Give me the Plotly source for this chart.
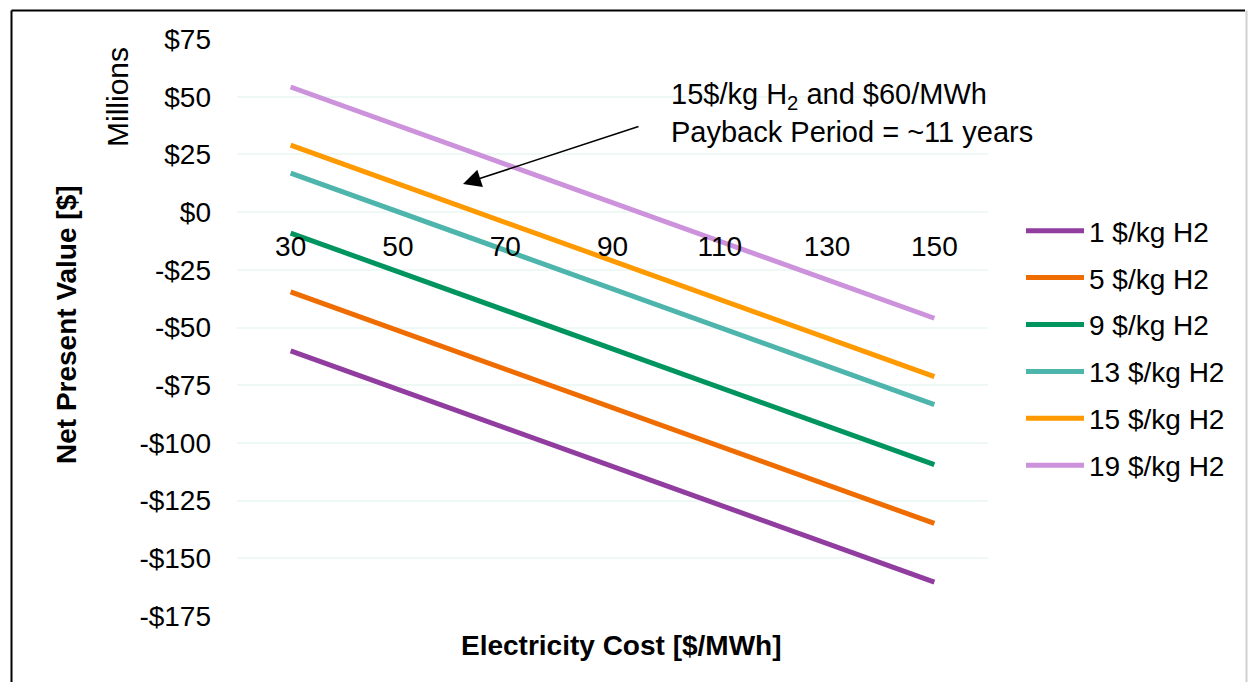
import plotly.graph_objects as go

# ---- data ----
electricity_cost = [30, 50, 70, 90, 110, 130, 150]  # $/MWh

series_names = ["1 $/kg H2", "5 $/kg H2", "9 $/kg H2", "13 $/kg H2", "15 $/kg H2", "19 $/kg H2"]

npv_1 = [-60.1, -76.8, -93.5, -110.2, -126.9, -143.6, -160.3]
npv_5 = [-34.6, -51.3, -68.0, -84.7, -101.4, -118.1, -134.9]
npv_9 = [-9.1, -25.8, -42.5, -59.2, -75.9, -92.6, -109.4]
npv_13 = [16.9, 0.2, -16.5, -33.2, -49.9, -66.6, -83.4]
npv_15 = [29.0, 12.3, -4.4, -21.1, -37.8, -54.5, -71.3]
npv_19 = [54.2, 37.5, 20.8, 4.1, -12.6, -29.3, -46.0]

y_tick_values = [75, 50, 25, 0, -25, -50, -75, -100, -125, -150, -175]
y_tick_labels = ["$75", "$50", "$25", "$0", "-$25", "-$50", "-$75", "-$100", "-$125", "-$150", "-$175"]
x_tick_labels = ["30", "50", "70", "90", "110", "130", "150"]

colors = ["#913DA0", "#EE6C00", "#00945F", "#4DB5AB", "#FF9900", "#CC92DB"]

# ---- layout geometry (pixels) ----
W, H = 1248, 682
PL, PR, PT, PB = 237, 988, 39, 616
pw, ph = PR - PL, PB - PT
Y_MIN, Y_MAX = -175, 75


def fx(px):
    return (px - PL) / pw


def fy(py):
    return (PB - py) / ph


FONT = "Arial, Liberation Sans, sans-serif"
FS = 28

fig = go.Figure()
all_series = [npv_1, npv_5, npv_9, npv_13, npv_15, npv_19]
for i, (name, vals) in enumerate(zip(series_names, all_series)):
    fig.add_trace(go.Scatter(
        x=electricity_cost, y=vals, mode="lines", name=name,
        line=dict(color=colors[i], width=5),
        legendgroup=f"g{i}",
    ))

fig.update_layout(
    width=W, height=H,
    margin=dict(l=PL, r=W - PR, t=PT, b=H - PB, pad=0),
    paper_bgcolor="white", plot_bgcolor="white",
    font=dict(family=FONT, size=FS, color="black"),
    showlegend=True,
    legend=dict(
        x=fx(1021), y=fy(206), xanchor="left", yanchor="top",
        font=dict(family=FONT, size=FS, color="black"),
        bgcolor="rgba(0,0,0,0)", borderwidth=0,
        traceorder="grouped", tracegroupgap=7.5,
        itemwidth=58,
    ),
    xaxis=dict(
        range=[20, 160], tickvals=electricity_cost, ticktext=x_tick_labels,
        showgrid=False, zeroline=False, showline=False, ticks="",
        anchor="free", position=(0 - Y_MIN) / (Y_MAX - Y_MIN),
        ticklabelstandoff=15,
        tickfont=dict(family=FONT, size=FS, color="black"),
        fixedrange=True,
    ),
    yaxis=dict(
        range=[Y_MIN, Y_MAX], tickvals=y_tick_values, ticktext=y_tick_labels,
        showgrid=True, gridcolor="#EEF8F5", gridwidth=2,
        zeroline=False, showline=False, ticks="",
        ticklabelstandoff=25,
        tickfont=dict(family=FONT, size=FS, color="black"),
        fixedrange=True,
    ),
)

# Axis titles and unit label
fig.add_annotation(
    text="<b>Electricity Cost [$/MWh]</b>", xref="paper", yref="paper",
    x=fx(621), y=fy(645), xanchor="center", yanchor="middle", showarrow=False,
    font=dict(family=FONT, size=FS, color="black"),
)
fig.add_annotation(
    text="<b>Net Present Value [$]</b>", xref="paper", yref="paper",
    x=fx(66), y=fy(325), xanchor="center", yanchor="middle", showarrow=False,
    textangle=-90, font=dict(family=FONT, size=FS, color="black"),
)
fig.add_annotation(
    text="Millions", xref="paper", yref="paper",
    x=fx(117), y=fy(97), xanchor="center", yanchor="middle", showarrow=False,
    textangle=-90, font=dict(family=FONT, size=30, color="black"),
)

# Callout text and arrow
fig.add_annotation(
    text="15$/kg H<sub>2</sub> and $60/MWh<br>Payback Period = ~11 years",
    xref="paper", yref="paper", x=fx(669), y=fy(113),
    xanchor="left", yanchor="middle", align="left", showarrow=False,
    font=dict(family=FONT, size=29, color="black"),
)
fig.add_annotation(
    text="", xref="paper", yref="paper", x=fx(463), y=fy(184),
    ax=640 - 463, ay=126 - 184, axref="pixel", ayref="pixel",
    showarrow=True, arrowhead=2, arrowsize=2.4, arrowwidth=1.5, arrowcolor="black",
)

# Chart border
x_left, x_right, y_top, y_bot = fx(11.5), fx(1245), fy(10.5), fy(700)
fig.add_shape(type="line", xref="paper", yref="paper", x0=x_left, x1=x_right, y0=y_top, y1=y_top,
              line=dict(color="black", width=2))
fig.add_shape(type="line", xref="paper", yref="paper", x0=x_left, x1=x_left, y0=y_top, y1=y_bot,
              line=dict(color="black", width=2))
fig.add_shape(type="line", xref="paper", yref="paper", x0=fx(1246.5), x1=fx(1246.5), y0=y_top, y1=y_bot,
              line=dict(color="#D0D0D0", width=2))

fig.write_html(
    "out.html",
    config={"displayModeBar": False},
    post_script="document.body.style.margin='0';document.body.style.overflow='hidden';",
)
